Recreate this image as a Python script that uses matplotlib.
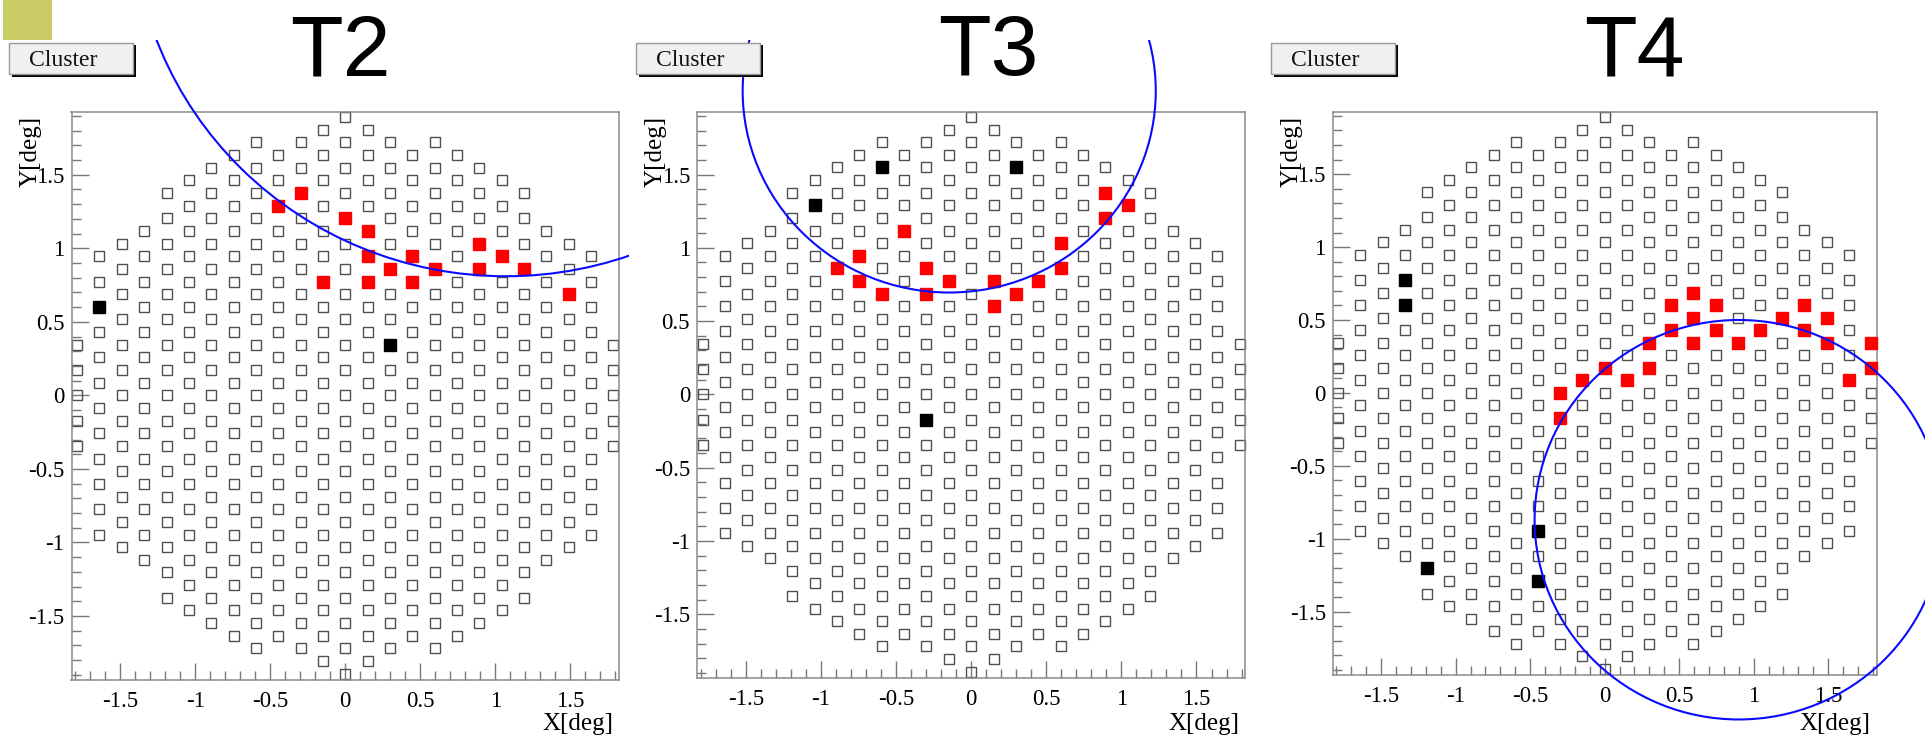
import numpy as np
import matplotlib
matplotlib.use("Agg")
import matplotlib.pyplot as plt
from matplotlib.patches import Ellipse, Rectangle
from matplotlib.transforms import Bbox, TransformedBbox
from matplotlib.ticker import MultipleLocator

# ---------------- data ----------------
panel_titles = ["T2", "T3", "T4"]
button_label = "Cluster"
x_label = "X[deg]"
y_label = "Y[deg]"
tick_values = [-1.5, -1.0, -0.5, 0.0, 0.5, 1.0, 1.5]
tick_labels = ["-1.5", "-1", "-0.5", "0", "0.5", "1", "1.5"]

# camera: half-extent (in rows) of each pixel column, |column| = 0..12
col_half_rows = [11, 10.5, 10, 9.5, 10, 9.5, 9, 8.5, 8, 6.5, 6, 5.5, 2]
pixel_pitch = 0.172  # deg

# hit pixels, given as (column index, row position in pitch units)
t2_red_col = [-3, -2, 0, 1, 1, 1, -1, 2, 3, 3, 4, 6, 6, 7, 8, 10]
t2_red_row = [7.5, 8, 7, 6.5, 5.5, 4.5, 4.5, 5, 5.5, 4.5, 5, 6, 5, 5.5, 5, 4]
t2_black_col = [-11, 2]
t2_black_row = [3.5, 2]

t3_red_col = [6, 6, 7, -3, 4, 4, -5, -6, -5, -4, -2, -2, -1, 1, 1, 2, 3]
t3_red_row = [8, 7, 7.5, 6.5, 6, 5, 5.5, 5, 4.5, 4, 5, 4, 4.5, 4.5, 3.5, 4, 4.5]
t3_black_col = [-4, 2, -7, -2]
t3_black_row = [9, 9, 7.5, -1]

t4_red_col = [4, 3, 5, 9, 4, 8, 10, 3, 5, 7, 9, 2, 4, 6, 10, 12, 0, 2, 12, -1, 1, 11, -2, -2]
t4_red_row = [4, 3.5, 3.5, 3.5, 3, 3, 3, 2.5, 2.5, 2.5, 2.5, 2, 2, 2, 2, 2, 1, 1, 1, 0.5, 0.5, 0.5, 0, -1]
t4_black_col = [-9, -9, -3, -3, -8]
t4_black_row = [4.5, 3.5, -5.5, -7.5, -7]

# fitted ring per telescope (deg)
ring_cx = [1.07, -0.146, 0.90]
ring_cy = [3.30, 2.07, -0.87]
ring_r = [2.49, 1.375, 1.37]

red_cols = [t2_red_col, t3_red_col, t4_red_col]
red_rows = [t2_red_row, t3_red_row, t4_red_row]
black_cols = [t2_black_col, t3_black_col, t4_black_col]
black_rows = [t2_black_row, t3_black_row, t4_black_row]

# ---------------- layout (pixels) ----------------
W, H = 1925, 740
ax_left = [71.5, 697.0, 1332.7]
ax_right = [619.0, 1245.3, 1876.6]
ax_top = 111.5
ax_bottom = [680.0, 678.0, 675.0]
title_cx = [340, 988, 1634]
btn_left = [9.3, 636.0, 1271.0]
btn_w = 124.0
btn_top, btn_bot = 42.7, 74.0
clip_x = [(0, 629), (630, 1265), (1265, 1925)]
clip_top = 40

XLIM = (-1.825, 1.825)
YLIM = (-1.935, 1.93)

SERIF = ["Liberation Serif", "DejaVu Serif"]
SANS = ["Liberation Sans", "DejaVu Sans"]

col_step = pixel_pitch * np.sqrt(3) / 2.0


def fxy(px, py):
    return px / W, 1 - py / H


# camera grid
grid_x, grid_y = [], []
for k in range(-12, 13):
    h = col_half_rows[abs(k)]
    rows = np.arange(-h, h + 0.01, 1.0)
    grid_x.extend([k * col_step] * len(rows))
    grid_y.extend(list(rows * pixel_pitch))
grid_x = np.array(grid_x)
grid_y = np.array(grid_y)

fig = plt.figure(figsize=(W / 100, H / 100), dpi=100)
fig.patch.set_facecolor("white")

# small gold square in the corner
x0, y0 = fxy(3, 40)
fig.patches.append(Rectangle((x0, y0), 49 / W, 40 / H, transform=fig.transFigure,
                             facecolor="#cccc66", edgecolor="none"))

for i in range(3):
    L, R, B = ax_left[i], ax_right[i], ax_bottom[i]
    ax = fig.add_axes([L / W, 1 - B / H, (R - L) / W, (B - ax_top) / H])
    ax.set_xlim(*XLIM)
    ax.set_ylim(*YLIM)
    ax.set_facecolor("white")
    for s in ax.spines.values():
        s.set_color("#8a8a8a")
        s.set_linewidth(1.1)

    ax.set_xticks(tick_values)
    ax.set_xticklabels(tick_labels)
    ax.set_yticks(tick_values)
    ax.set_yticklabels(tick_labels)
    ax.xaxis.set_minor_locator(MultipleLocator(0.1))
    ax.yaxis.set_minor_locator(MultipleLocator(0.1))
    ax.tick_params(which="both", direction="in", top=False, right=False,
                   color="#777777", width=1.0)
    ax.tick_params(which="major", length=12.5)
    ax.tick_params(which="minor", length=6.5)
    ax.tick_params(axis="x", pad=8.0)
    ax.tick_params(axis="y", pad=5.0)
    for lab in ax.get_xticklabels() + ax.get_yticklabels():
        lab.set_fontfamily(SERIF)
        lab.set_fontsize(16.5)
        lab.set_color("black")

    # camera pixels
    ax.plot(grid_x, grid_y, "s", ms=7.5, mfc="none", mec="#505050", mew=1.0,
            clip_on=False, zorder=2)
    rx = np.array(red_cols[i]) * col_step
    ry = np.array(red_rows[i]) * pixel_pitch
    ax.plot(rx, ry, "s", ms=8.0, mfc="#ff0000", mec="#ff0000", mew=1.0,
            clip_on=False, zorder=3)
    bx = np.array(black_cols[i]) * col_step
    by = np.array(black_rows[i]) * pixel_pitch
    ax.plot(bx, by, "s", ms=8.0, mfc="black", mec="black", mew=1.0,
            clip_on=False, zorder=3)

    # ring
    ring = Ellipse((ring_cx[i], ring_cy[i]), 2 * ring_r[i], 2 * ring_r[i],
                   fill=False, edgecolor="#0a0aff", linewidth=1.5, zorder=4)
    ax.add_patch(ring)
    ring.set_clip_path(None)
    cx0, cx1 = clip_x[i]
    bb = Bbox([[cx0 / W, 0.0], [cx1 / W, 1 - clip_top / H]])
    ring.set_clip_box(TransformedBbox(bb, fig.transFigure))
    ring.set_clip_on(True)

    # axis labels
    fig.text((R - 6) / W, 1 - 730 / H, x_label, ha="right", va="baseline",
             fontsize=18, family=SERIF)
    fig.text((L - 41) / W, 1 - 116 / H, y_label, ha="center", va="top",
             rotation=90, fontsize=18, family=SERIF)

    # title
    fig.text(title_cx[i] / W, 1 - 75 / H, panel_titles[i], ha="center",
             va="baseline", fontsize=62, family=SANS, color="black")

    # button with shadow
    bl = btn_left[i]
    sx, sy = fxy(bl + 3, btn_bot + 2.5)
    fig.patches.append(Rectangle((sx, sy), btn_w / W, (btn_bot - btn_top) / H,
                                 transform=fig.transFigure, facecolor="black",
                                 edgecolor="none", zorder=1))
    fx0, fy0 = fxy(bl, btn_bot)
    fig.patches.append(Rectangle((fx0, fy0), btn_w / W, (btn_bot - btn_top) / H,
                                 transform=fig.transFigure, facecolor="#f0f0f0",
                                 edgecolor="#9a9a9a", linewidth=1.0, zorder=2))
    fig.text((bl + btn_w / 2 - 8) / W, 1 - 66 / H, button_label, ha="center",
             va="baseline", fontsize=17, family=SERIF, color="#111111")

fig.savefig("out.png", dpi=100, facecolor="white")
